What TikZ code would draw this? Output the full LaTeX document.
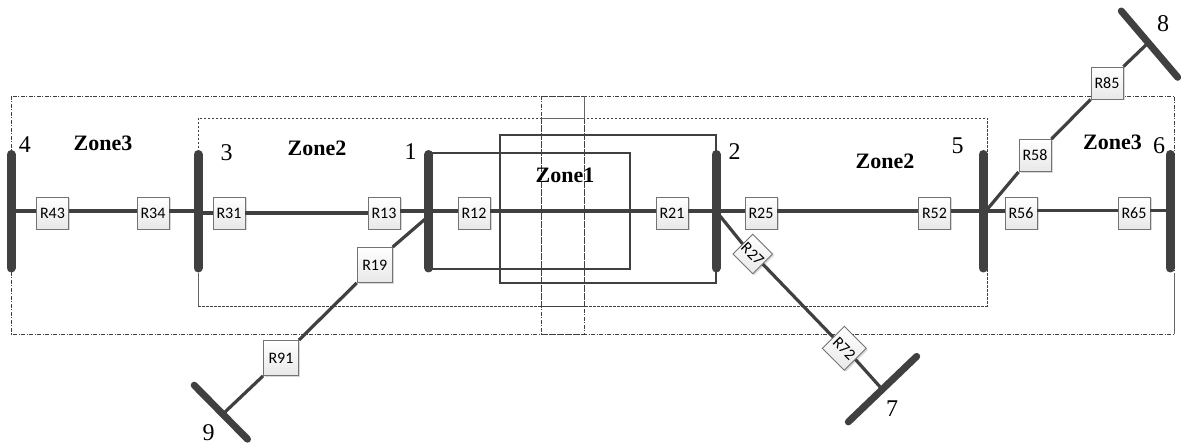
\documentclass[tikz,border=0pt]{standalone}
\usepackage{fontspec}
\setmainfont{Liberation Serif}
\newfontfamily\relayfont{Carlito}
\usetikzlibrary{shadows}
\definecolor{ink}{HTML}{404040}
\tikzset{
  zonethree/.style={draw=black!75,line width=0.8pt,dash pattern=on 4pt off 1.5pt on 1pt off 1.5pt},
  zonetwo/.style={draw=black!75,line width=0.8pt,dash pattern=on 2.5pt off 1.5pt},
  zoneone/.style={draw=ink,line width=1.2pt},
  thin solid/.style={draw=black!60,line width=0.8pt},
  feeder/.style={draw=ink,line width=3.2pt},
  busbar/.style={draw=ink,line width=9pt,line cap=round},
  slantbus/.style={draw=ink,line width=7pt,line cap=round},
  relay/.style={draw=black!55,line width=0.9pt,top color=white,bottom color=black!9,
    minimum size=32pt,inner sep=0pt,font=\relayfont\fontsize{16}{18}\selectfont,
    drop shadow={shadow xshift=1.5pt,shadow yshift=-1.5pt,fill=black!30,opacity=.5}},
  zonelabel/.style={font=\bfseries\fontsize{22}{24}\selectfont,inner sep=0pt},
  buslabel/.style={font=\fontsize{24}{26}\selectfont,inner sep=0pt},
}
\begin{document}
\begin{tikzpicture}[x=1pt,y=-1pt]
\useasboundingbox (0,0) rectangle (1181,446);
% zones
\draw[zonethree] (11,96) rectangle (584,334);
\draw[zonethree] (541,96) rectangle (1174,334);
\draw[zonetwo] (198,118) rectangle (584,306);
\draw[zonetwo] (541,118) rectangle (987,306);
\draw[thin solid] (198,273) -- (198,306);
\draw[thin solid] (1174,273) -- (1174,334);
\draw[thin solid] (584,96) -- (584,118) -- (541,118);
\draw[zoneone] (428,153) rectangle (630,269);
\draw[zoneone] (500,135) rectangle (716,283);
% junctions on the bars
\coordinate (j4) at (11,211);
\coordinate (j3) at (198,211);
\coordinate (j1) at (428.7,211);
\coordinate (j1d) at (431,214);
\coordinate (j2) at (716,211);
\coordinate (j5) at (983,211);
\coordinate (j5d) at (985,212);
\coordinate (j6) at (1170,210.5);
\coordinate (j9) at (225,412);
\coordinate (j7) at (881.5,388.5);
\coordinate (j8) at (1148,43);
\coordinate (rr) at (0,213);
% relays
\node[relay] (R43) at (52.5,213) {R43};
\node[relay] (R34) at (153,213) {R34};
\node[relay] (R31) at (229,213) {R31};
\node[relay] (R13) at (384,213) {R13};
\node[relay] (R12) at (474,213) {R12};
\node[relay] (R21) at (672,213) {R21};
\node[relay] (R25) at (761,213) {R25};
\node[relay] (R52) at (934.5,213) {R52};
\node[relay] (R56) at (1021,213) {R56};
\node[relay] (R65) at (1134,213) {R65};
\node[relay,minimum size=35pt] (R19) at (374.7,265) {R19};
\node[relay,minimum size=35pt] (R91) at (281,358) {R91};
\node[relay] (R58) at (1035,155.5) {R58};
\node[relay] (R85) at (1107,83) {R85};
\node[relay,minimum size=28pt,rotate=-45] (R27) at (752.7,254) {R27};
\node[relay,minimum size=31pt,rotate=-45] (R72) at (844.3,348.3) {R72};
% feeders
\draw[feeder] (j4) -- (R43.west |- j4);
\draw[feeder] (R43.east |- j4) -- (R34.west |- j4);
\draw[feeder] (R34.east |- j4) -- (j3);
\draw[feeder] (j3 |- rr) -- (R31.west);
\draw[feeder] (R31.east) -- (R13.west);
\draw[feeder] (R13.east |- j1) -- (j1);
\draw[feeder] (j1) -- (R12.west |- j1);
\draw[feeder] (R12.east |- j1) -- (R21.west |- j1);
\draw[feeder] (R21.east |- j2) -- (j2);
\draw[feeder] (j2) -- (R25.west |- j2);
\draw[feeder] (R25.east |- j2) -- (R52.west |- j2);
\draw[feeder] (R52.east |- j5) -- (j5);
\draw[feeder] (j5) -- (R56.west |- j5);
\draw[feeder] (R56.east |- j6) -- (R65.west |- j6);
\draw[feeder] (R65.east |- j6) -- (j6);
\draw[feeder] (j1d) -- (R19.north east);
\draw[feeder] (R19.south west) -- (R91.north east);
\draw[feeder] (R91.south west) -- (j9);
\draw[feeder] (j2) -- (R27.west);
\draw[feeder] (R27.east) -- (R72.west);
\draw[feeder] (R72.east) -- (j7);
\draw[feeder] (j5d) -- (R58.south west);
\draw[feeder] (R58.north east) -- (R85.south west);
\draw[feeder] (R85.north east) -- (j8);
% bars
\coordinate (b4a) at (11,154.5); \coordinate (b4b) at (11,268);
\coordinate (b3a) at (198,154.5); \coordinate (b3b) at (198,268);
\coordinate (b1a) at (428.7,154.5); \coordinate (b1b) at (428.7,268);
\coordinate (b2a) at (716,154.5); \coordinate (b2b) at (716,268);
\coordinate (b5a) at (983,154.5); \coordinate (b5b) at (983,268);
\coordinate (b6a) at (1170,154.5); \coordinate (b6b) at (1170,268);
\coordinate (b9a) at (194.2,385.2); \coordinate (b9b) at (247.5,439.2);
\coordinate (b7a) at (848.3,421.9); \coordinate (b7b) at (916.7,356.4);
\coordinate (b8a) at (1121.3,11); \coordinate (b8b) at (1177.7,77.3);
\draw[busbar] (b4a) -- (b4b);
\draw[busbar] (b3a) -- (b3b);
\draw[busbar] (b1a) -- (b1b);
\draw[busbar] (b2a) -- (b2b);
\draw[busbar] (b5a) -- (b5b);
\draw[busbar] (b6a) -- (b6b);
\draw[slantbus] (b9a) -- (b9b);
\draw[slantbus] (b7a) -- (b7b);
\draw[slantbus] (b8a) -- (b8b);
% labels
\node[zonelabel] (zl3) at (103,143) {Zone3};
\node[zonelabel] (zl2) at (317,148) {Zone2};
\node[zonelabel] (z1) at (565,175) {Zone1};
\node[zonelabel] (zr2) at (885,161) {Zone2};
\node[zonelabel] (zr3) at (1112.5,142) {Zone3};
\node[buslabel] (n4) at (25,145) {4};
\node[buslabel] (n3) at (226.5,153) {3};
\node[buslabel] (n1) at (410.5,152) {1};
\node[buslabel] (n2) at (734.5,152) {2};
\node[buslabel] (n5) at (957.5,146) {5};
\node[buslabel] (n6) at (1159,146) {6};
\node[buslabel] (n8) at (1163,24) {8};
\node[buslabel] (n7) at (892,409) {7};
\node[buslabel] (n9) at (208.5,433) {9};
\end{tikzpicture}
\end{document}
